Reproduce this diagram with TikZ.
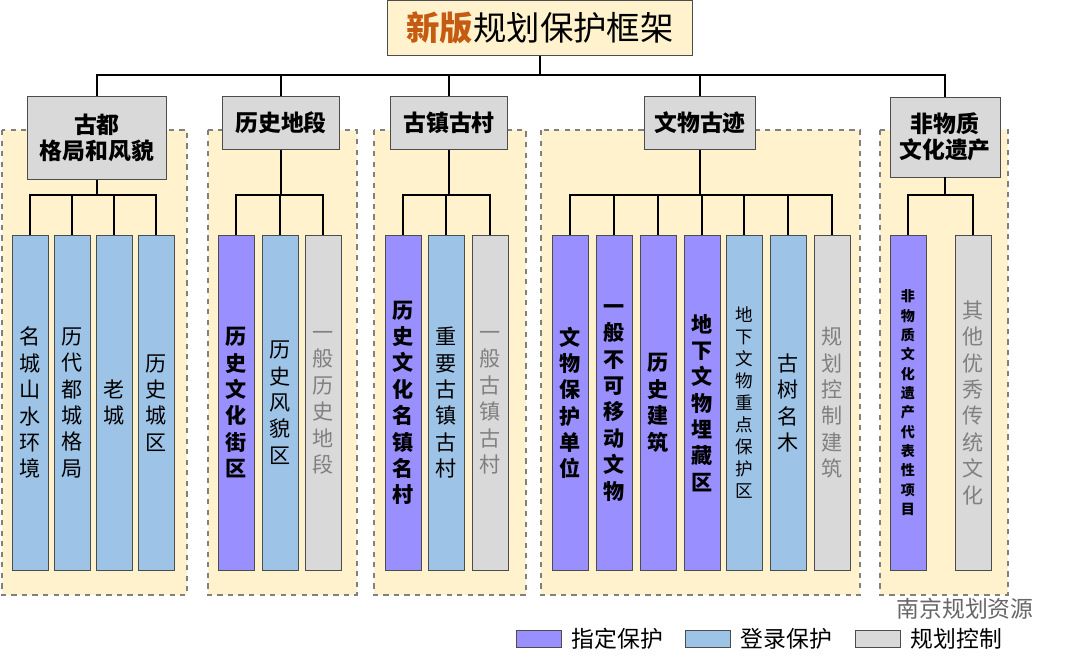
\documentclass[tikz,border=0pt]{standalone}
\usepackage{fontspec}
\setmainfont{Noto Sans CJK SC}
\usepackage{tikz}
\definecolor{zdbh}{RGB}{153,143,255}
\definecolor{dlbh}{RGB}{157,195,230}
\definecolor{ghkz}{RGB}{217,217,217}
\definecolor{bgy}{RGB}{255,242,204}
\definecolor{xbo}{RGB}{197,90,17}
\tikzset{
  cat/.style={draw=black!70,fill=ghkz,font=\bfseries\fontsize{13}{15}\selectfont,align=center,inner sep=2pt},
  leaf/.style={draw=black!70,fill=#1,anchor=north,minimum width=0.72cm,minimum height=6.7cm,inner sep=0pt,align=center,font=\fontsize{12}{15}\selectfont},
  region/.style={draw=gray,dashed,line width=1pt,fill=bgy},
  lk/.style={draw=black,line width=0.8pt}
}
\begin{document}
\begin{tikzpicture}[x=0.02cm,y=-0.02cm]
	\useasboundingbox (0,0) rectangle (1080,669);
	% regions
	\draw[region] (2,130) rectangle (187,595);
	\draw[region] (208,130) rectangle (357,595);
	\draw[region] (374,130) rectangle (526,595);
	\draw[region] (541,130) rectangle (860,595);
	\draw[region] (880,130) rectangle (1008,595);
	% title
	\node[draw=black!70,fill=bgy,minimum width=6.1cm,minimum height=1.1cm,font=\fontsize{19}{22}\selectfont] (T) at (540,28) {{\bfseries\color{xbo}新版}规划保护框架};
	\node[cat,minimum width=2.78cm,minimum height=1.66cm] (C1) at (97,138) {古都\\格局和风貌};
	\node[cat,minimum width=2.34cm,minimum height=1.06cm] (C2) at (281,123) {历史地段};
	\node[cat,minimum width=2.34cm,minimum height=1.06cm] (C3) at (449,123) {古镇古村};
	\node[cat,minimum width=2.22cm,minimum height=1.06cm] (C4) at (700,123) {文物古迹};
	\node[cat,minimum width=2.2cm,minimum height=1.6cm] (C5) at (945,137) {非物质\\文化遗产};
	\coordinate (top) at (540,75);
	\draw[lk] (T.south) -- (top);
	\foreach \c in {C1,C2,C3,C4,C5} \draw[lk] (\c.north) |- (top);
	% leaves
	\node[leaf=dlbh] (A1) at (30,235) {名\\城\\山\\水\\环\\境};
	\node[leaf=dlbh] (A2) at (72,235) {历\\代\\都\\城\\格\\局};
	\node[leaf=dlbh] (A3) at (114,235) {老\\城};
	\node[leaf=dlbh] (A4) at (156,235) {历\\史\\城\\区};
	\node[leaf=zdbh,font=\bfseries\fontsize{12}{15}\selectfont] (B1) at (236,235) {历\\史\\文\\化\\街\\区};
	\node[leaf=dlbh] (B2) at (280,235) {历\\史\\风\\貌\\区};
	\node[leaf=ghkz,text=gray] (B3) at (323,235) {一\\般\\历\\史\\地\\段};
	\node[leaf=zdbh,font=\bfseries\fontsize{12}{15}\selectfont] (D1) at (403,235) {历\\史\\文\\化\\名\\镇\\名\\村};
	\node[leaf=dlbh] (D2) at (446,235) {重\\要\\古\\镇\\古\\村};
	\node[leaf=ghkz,text=gray] (D3) at (490,235) {一\\般\\古\\镇\\古\\村};
	\node[leaf=zdbh,font=\bfseries\fontsize{12}{15}\selectfont] (E1) at (570,235) {文\\物\\保\\护\\单\\位};
	\node[leaf=zdbh,font=\bfseries\fontsize{12}{15}\selectfont] (E2) at (614,235) {一\\般\\不\\可\\移\\动\\文\\物};
	\node[leaf=zdbh,font=\bfseries\fontsize{12}{15}\selectfont] (E3) at (658,235) {历\\史\\建\\筑};
	\node[leaf=zdbh,font=\bfseries\fontsize{12}{15}\selectfont] (E4) at (702,235) {地\\下\\文\\物\\埋\\藏\\区};
	\node[leaf=dlbh,font=\fontsize{10}{12.5}\selectfont] (E5) at (744,235) {地\\下\\文\\物\\重\\点\\保\\护\\区};
	\node[leaf=dlbh] (E6) at (788,235) {古\\树\\名\\木};
	\node[leaf=ghkz,text=gray] (E7) at (832,235) {规\\划\\控\\制\\建\\筑};
	\node[leaf=zdbh,font=\bfseries\fontsize{8}{11}\selectfont] (F1) at (908,235) {非\\物\\质\\文\\化\\遗\\产\\代\\表\\性\\项\\目};
	\node[leaf=ghkz,text=gray] (F2) at (973,235) {其\\他\\优\\秀\\传\\统\\文\\化};
	% combs
	\coordinate (h1) at (97,195);
	\coordinate (h2) at (281,195);
	\coordinate (h3) at (449,195);
	\coordinate (h4) at (700,195);
	\coordinate (h5) at (945,195);
	\draw[lk] (C1.south) -- (h1);
	\draw[lk] (C2.south) -- (h2);
	\draw[lk] (C3.south) -- (h3);
	\draw[lk] (C4.south) -- (h4);
	\draw[lk] (C5.south) -- (h5);
	\foreach \l in {A1,A2,A3,A4} \draw[lk] (\l.north) |- (h1);
	\foreach \l in {B1,B2,B3} \draw[lk] (\l.north) |- (h2);
	\foreach \l in {D1,D2,D3} \draw[lk] (\l.north) |- (h3);
	\foreach \l in {E1,E2,E3,E4,E5,E6,E7} \draw[lk] (\l.north) |- (h4);
	\foreach \l in {F1,F2} \draw[lk] (\l.north) |- (h5);
	% legend
	\node[draw=black!70,fill=zdbh,minimum width=0.9cm,minimum height=0.34cm] (K1) at (539,639) {};
	\node[right=2pt,font=\fontsize{13}{15}\selectfont] (L1) at (K1.east) {指定保护};
	\node[draw=black!70,fill=dlbh,minimum width=0.9cm,minimum height=0.34cm] (K2) at (708,639) {};
	\node[right=2pt,font=\fontsize{13}{15}\selectfont] (L2) at (K2.east) {登录保护};
	\node[draw=black!70,fill=ghkz,minimum width=0.9cm,minimum height=0.34cm] (K3) at (878,639) {};
	\node[right=2pt,font=\fontsize{13}{15}\selectfont] (L3) at (K3.east) {规划控制};
	\node[font=\fontsize{13}{15}\selectfont,text=black!60] (W) at (965,609) {南京规划资源};
\end{tikzpicture}
\end{document}
